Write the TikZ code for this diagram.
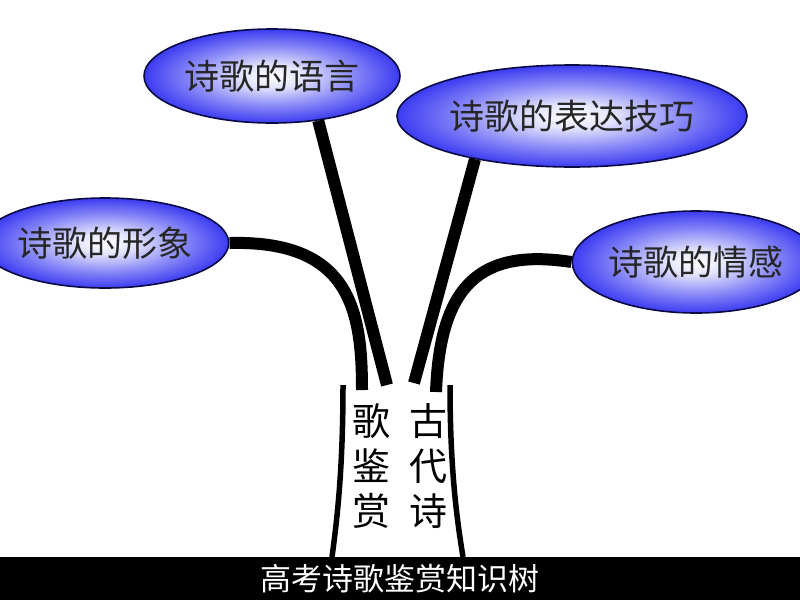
\documentclass[tikz,border=0pt]{standalone}
\usepackage{fontspec}
\newfontfamily\cjk{Noto Sans CJK SC}
\usepackage{xcolor}
\usepackage{tikz}
\usetikzlibrary{shapes.geometric,positioning}
\definecolor{bubbleblue}{RGB}{25,25,240}
\definecolor{bubbleline}{RGB}{10,10,70}
\pgfdeclareradialshading{bubble}{\pgfpoint{0bp}{0bp}}{%
	color(0bp)=(white); color(6bp)=(white!88!bubbleblue);
	color(16bp)=(bubbleblue!52); color(25bp)=(bubbleblue!85);
	color(33bp)=(bubbleblue); color(50bp)=(bubbleblue)}
\tikzset{
	bubble/.style={% Blue shaded ellipses for the topics
		draw=bubbleline, line width=1.6pt,
		shape=ellipse,
		shading=bubble,
		inner sep=0pt,
		text=black!85,
		font=\cjk\fontsize{35}{35}\selectfont
	},
	bubblesize/.style 2 args={
		minimum width=#1pt,
		minimum height=#2pt
	},
	branch/.style={
		line width=12pt
	},
	trunk/.style={
		line width=5.5pt
	},
	column/.style={
		inner sep=0pt,
		align=center,
		font=\cjk\fontsize{38}{45}\selectfont
	}
}

\begin{document}
\begin{tikzpicture}[x=1pt,y=-1pt]
		\path[fill=white, use as bounding box] (0,0) rectangle (800,600);
		
		\node (lang) [bubble, bubblesize={256}{94}] at (272,76) {诗歌的语言};
		\node (tech) [bubble, bubblesize={350}{102}] at (572,116) {诗歌的表达技巧};
		\node (image) [bubble, bubblesize={208}{90}] at (105,243) {诗歌的形象};
		\node (emo) [bubble, bubblesize={202}{102}] at (696,262) {诗歌的情感};
		
		% Free ends of the branches, on top of the trunk.
		\coordinate (imageend) at (362,390);
		\coordinate (langend) at (387,385);
		\coordinate (techend) at (414,383);
		\coordinate (emoend) at (436,392);
		
		\draw[branch] (image.east) .. controls (350,240) and (362,310) .. (imageend);
		\draw[branch] (lang.-44) -- (langend);
		\draw[branch] (tech.-156) -- (techend);
		\draw[branch] (emo.west) .. controls (480,248) and (440,285) .. (emoend);
		
		% The trunk.
		\draw[trunk] (343,385) .. controls (343,470) and (337,520) .. (332,557);
		\draw[trunk] (450,385) .. controls (450,470) and (457,520) .. (463,557);
		
		\node (col1) [column] at (428,466) {古\\代\\诗};
		\node (col2) [column, left=18pt of col1] {歌\\鉴\\赏};
		
		\fill[black] (0,557) rectangle (800,600);
		\node (title) [text=white, font=\cjk\fontsize{31}{31}\selectfont] at (400,579) {高考诗歌鉴赏知识树};
	\end{tikzpicture}
\end{document}
